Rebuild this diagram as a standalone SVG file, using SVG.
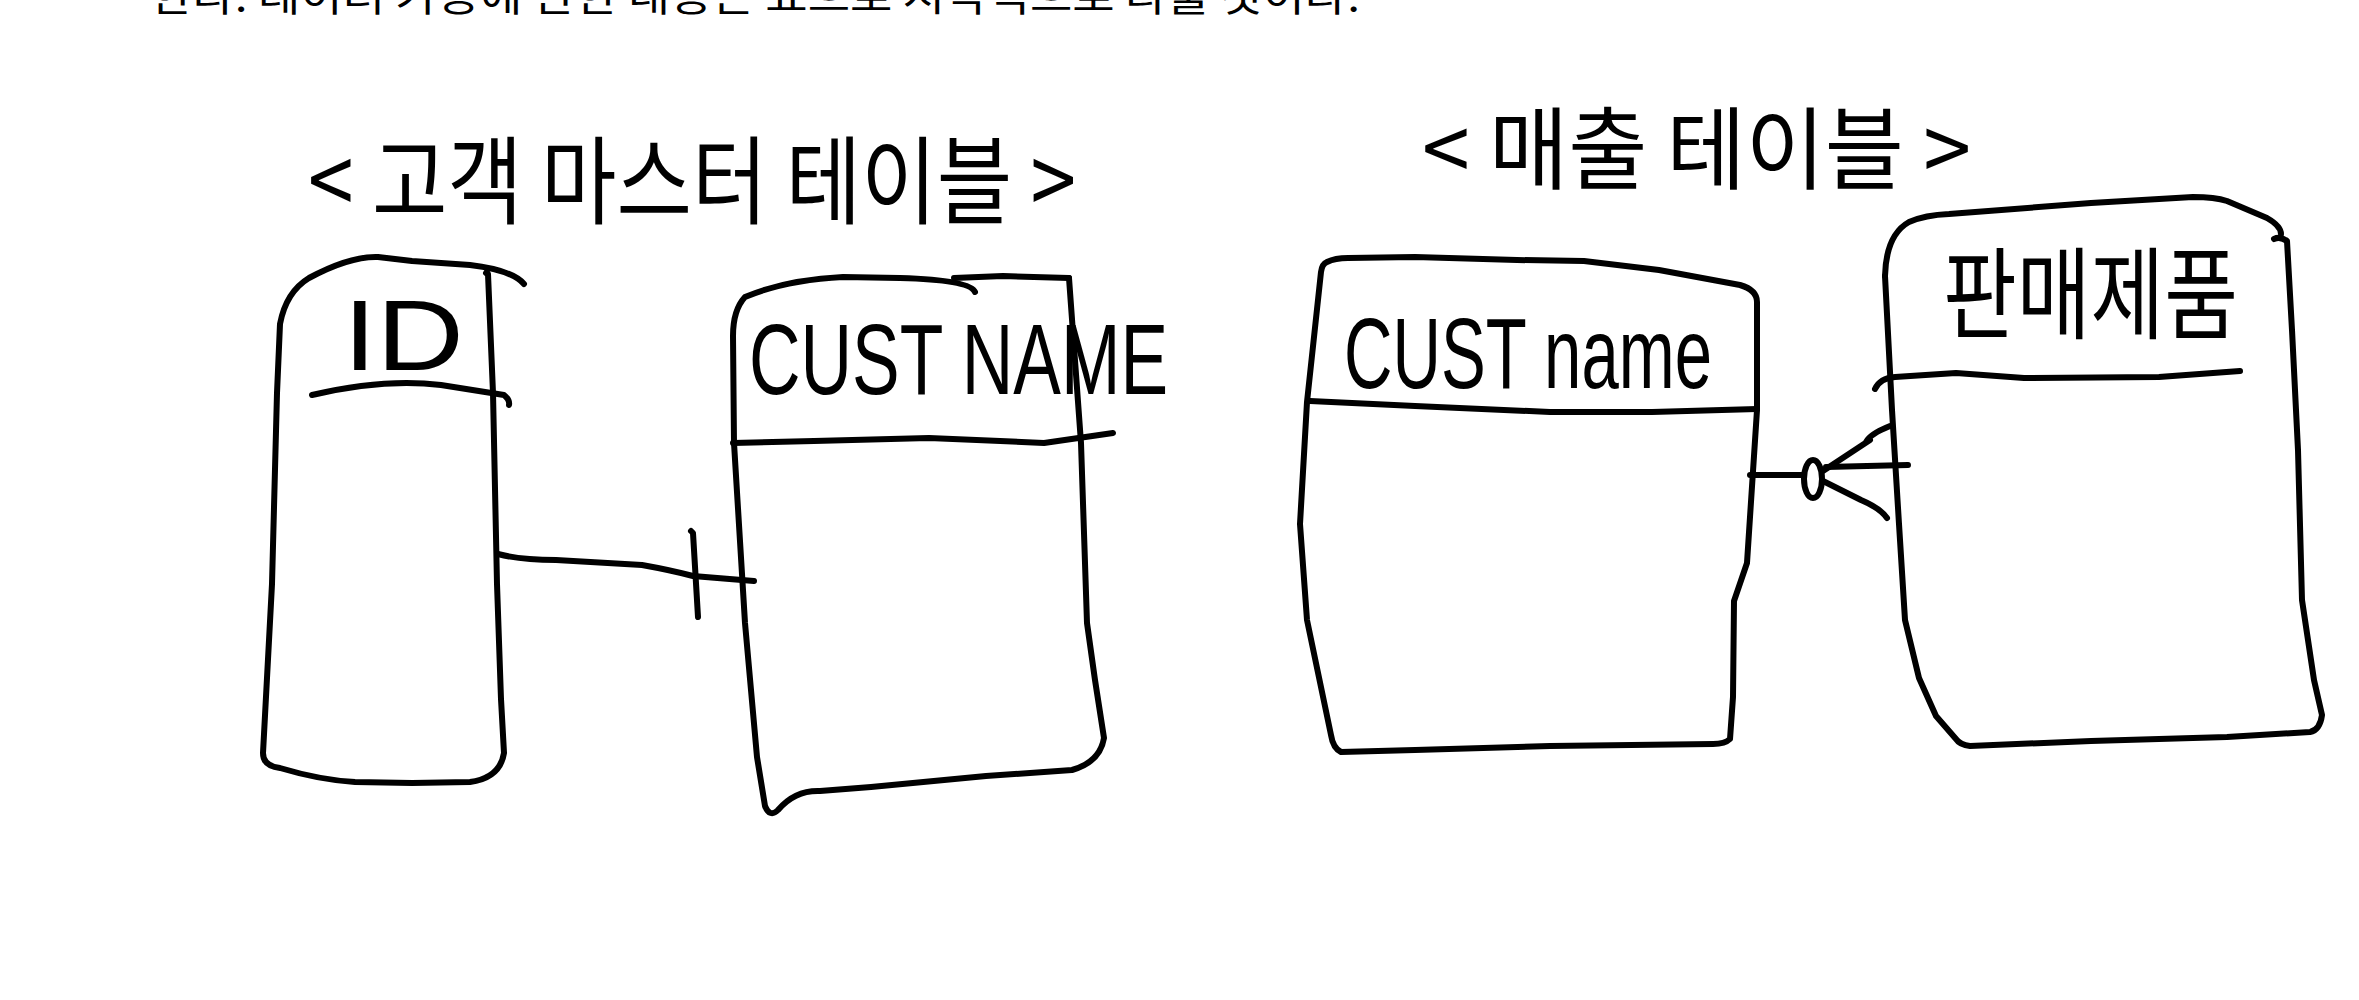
<svg xmlns="http://www.w3.org/2000/svg" width="2359" height="1000" viewBox="0 0 2359 1000">
<style>
.s{fill:none;stroke:#000;stroke-width:6;stroke-linecap:round;stroke-linejoin:round}
.k{font-family:"Noto Sans CJK KR","Liberation Sans",sans-serif;fill:#000}
.l{font-family:"Liberation Sans",Arial,sans-serif;fill:#000}
</style>
<rect x="0" y="0" width="2359" height="1000" fill="#fff"/>
<g id="doc-text">
<text class="k" x="150" y="11" font-size="40" textLength="1210" lengthAdjust="spacingAndGlyphs" fill="#111">한다. 데이터 가공에 관한 내용은 표으로 시각적으로 다룰 것이다.</text>
</g>
<g id="title-customer-master">
<text class="k" x="308" y="216" font-size="96" textLength="768" lengthAdjust="spacingAndGlyphs">&lt; 고객 마스터 테이블 &gt;</text>
</g>
<g id="title-sales">
<text class="k" x="1422" y="182" font-size="90" textLength="549" lengthAdjust="spacingAndGlyphs">&lt; 매출 테이블 &gt;</text>
</g>
<g id="node-id">
<path class="s" d="M524,284 Q512,270 470,265 L412,261 L378,257 Q350,256 309,278 Q286,292 280,324 L277,393 L272,584 L263,753 Q263,766 280,768 Q320,780 355,782 L412,783 L470,782 Q500,778 504,753 L501,699 L497,584 L493,393 L488,274 L486,273"/>
<path class="s" d="M312,395 Q384,378 441,385 L504,395 Q510,400 509,405"/>
<text class="l" x="343" y="370" font-size="100" textLength="121" lengthAdjust="spacingAndGlyphs">ID</text>
</g>
<g id="node-custname">
<path class="s" d="M975,292 Q970,280 900,278 L843,277 Q785,280 745,297 Q733,310 733,336 L734,443 L745,623 L757,757 L765,806 Q770,818 778,810 Q795,790 820,791 L871,787 L986,776 L1072,770 Q1100,762 1104,738 L1095,680 L1087,623 L1081,443 L1069,278"/>
<path class="s" d="M954,278 L1003,276 L1069,278"/>
<path class="s" d="M733,443 L814,441 L929,438 L1044,443 L1113,433"/>
<text class="l" x="749" y="394" font-size="100" textLength="419" lengthAdjust="spacingAndGlyphs">CUST NAME</text>
</g>
<g id="node-sales-custname">
<path class="s" d="M1327,262 Q1335,258 1348,258 L1415,257 L1517,260 L1584,261 L1659,270 L1740,285 Q1757,290 1757,302 L1757,410 L1747,563 L1734,601 L1733,697 L1730,739 Q1725,744 1713,744 L1550,746 L1415,750 L1341,752 Q1333,748 1331,735 L1307,620 L1300,524 L1307,402 L1321,272 Q1322,264 1327,262"/>
<path class="s" d="M1310,401 L1415,406 L1550,412 L1652,412 L1757,409"/>
<text class="l" x="1344" y="388" font-size="100" textLength="368" lengthAdjust="spacingAndGlyphs">CUST name</text>
</g>
<g id="node-product">
<path class="s" d="M1885,276 Q1886,235 1909,222 Q1925,215 1949,214 L2091,203 L2193,197 Q2215,197 2227,201 L2267,218 Q2281,226 2281,234"/>
<path class="s" d="M2274,239 Q2280,236 2287,241 L2292,330 L2298,450 L2302,600 L2314,680 L2322,715 Q2320,730 2310,732 L2227,737 L2091,741 L1970,746 Q1960,745 1956,739 L1936,716 L1919,678 L1905,620 L1899,524 L1892,410 L1885,276"/>
<path class="s" d="M1875,389 Q1880,378 1895,377 L1956,373 L2024,378 L2159,377 L2240,371"/>
<text class="k" x="1943" y="331" font-size="100" textLength="295" lengthAdjust="spacingAndGlyphs">판매제품</text>
</g>
<g id="connectors">
<path class="s" d="M498,554 Q520,560 556,560 L642,565 Q670,570 693,576 L754,581"/>
<path class="s" d="M691,531 L693,533 L698,617"/>
<path class="s" d="M1750,475 L1803,475"/>
<ellipse class="s" cx="1813" cy="479" rx="9" ry="19"/>
<path class="s" d="M1823,471 L1870,440 M1866,442 Q1870,434 1890,426"/>
<path class="s" d="M1826,467 L1908,465"/>
<path class="s" d="M1823,481 L1861,500 Q1880,508 1887,518"/>
</g>
</svg>
